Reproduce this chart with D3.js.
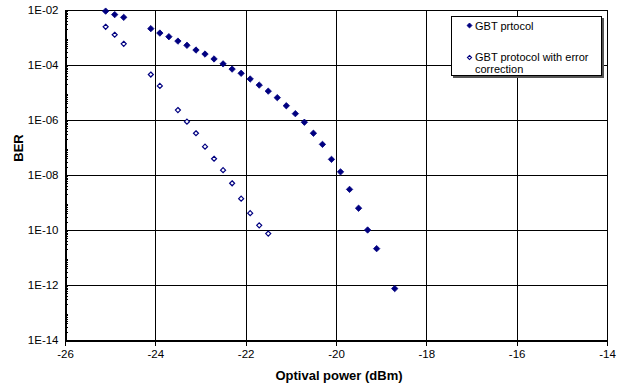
<!DOCTYPE html>
<html>
<head>
<meta charset="utf-8">
<script src="https://cdn.jsdelivr.net/npm/d3@7"></script>
<style>
  html, body { margin: 0; padding: 0; background: #fff; }
  svg { display: block; }
  text { font-family: "Liberation Sans", Arial, sans-serif; fill: #000; }
</style>
</head>
<body>
<svg id="chart" width="632" height="389"></svg>
<script>
// ---- data ----
const gbtPower = [-25.1, -24.9, -24.7, -24.1, -23.9, -23.7, -23.5, -23.3, -23.1, -22.9, -22.7, -22.5, -22.3, -22.1, -21.9, -21.7, -21.5, -21.3, -21.1, -20.9, -20.7, -20.5, -20.3, -20.1, -19.9, -19.7, -19.5, -19.3, -19.1, -18.7];
const gbtBER = [9.1e-3, 6.8e-3, 5.4e-3, 2.1e-3, 1.45e-3, 1.07e-3, 7.4e-4, 5.2e-4, 3.5e-4, 2.5e-4, 1.66e-4, 1.1e-4, 7.1e-5, 5.0e-5, 3.1e-5, 1.86e-5, 1.12e-5, 6.5e-6, 3.3e-6, 1.7e-6, 8.3e-7, 3.3e-7, 1.3e-7, 3.7e-8, 1.3e-8, 3.0e-9, 6.2e-10, 1.0e-10, 2.1e-11, 7.4e-13];
const ecPower = [-25.1, -24.9, -24.7, -24.1, -23.9, -23.5, -23.3, -23.1, -22.9, -22.7, -22.5, -22.3, -22.1, -21.9, -21.7, -21.5];
const ecBER = [2.45e-3, 1.26e-3, 5.9e-4, 4.5e-5, 1.74e-5, 2.3e-6, 8.7e-7, 3.3e-7, 1.07e-7, 3.9e-8, 1.5e-8, 5.0e-9, 1.38e-9, 4.1e-10, 1.48e-10, 7.4e-11];
const xTicks = [-26, -24, -22, -20, -18, -16, -14];
const yTicks = [1e-2, 1e-4, 1e-6, 1e-8, 1e-10, 1e-12, 1e-14];
const yTickLabels = ["1E-02", "1E-04", "1E-06", "1E-08", "1E-10", "1E-12", "1E-14"];
const seriesNames = ["GBT prtocol", "GBT protocol with error", "correction"];
const xTitle = "Optival power (dBm)";
const yTitle = "BER";

// ---- layout ----
const L = 65, R = 607, T = 10, B = 340;
const navy = "#000080";
const svg = d3.select("#chart");

const x = d3.scaleLinear().domain([-26, -14]).range([L, R]);
const y = d3.scaleLog().domain([1e-14, 1e-2]).range([B, T]);

// gridlines
const grid = svg.append("g").attr("shape-rendering", "crispEdges");
grid.selectAll("line.vx").data(xTicks.slice(1, -1)).join("line")
  .attr("x1", d => Math.round(x(d)) + 0.5).attr("x2", d => Math.round(x(d)) + 0.5)
  .attr("y1", T).attr("y2", B).attr("stroke", "#000").attr("stroke-width", 1);
grid.selectAll("line.hy").data(yTicks.slice(1, -1)).join("line")
  .attr("y1", d => Math.round(y(d)) + 0.5).attr("y2", d => Math.round(y(d)) + 0.5)
  .attr("x1", L).attr("x2", R).attr("stroke", "#000").attr("stroke-width", 1);

// frame (top & right)
svg.append("rect").attr("x", L + 0.5).attr("y", T + 0.5).attr("width", R - L).attr("height", B - T)
  .attr("fill", "none").attr("stroke", "#000").attr("shape-rendering", "crispEdges");

// x axis
const xAxis = d3.axisBottom(x).tickValues(xTicks).tickSize(5).tickPadding(4).tickFormat(d3.format("d"));
const gx = svg.append("g").attr("transform", `translate(0,${B + 0.5})`).call(xAxis);
gx.select(".domain").attr("stroke", "#000").attr("shape-rendering", "crispEdges");
gx.selectAll(".tick line").attr("stroke", "#000").attr("shape-rendering", "crispEdges");
gx.selectAll(".tick text").attr("font-size", 11.5).attr("font-family", "Liberation Sans, Arial, sans-serif").attr("fill", "#000").text(d => d);

// y axis: major labels, minor ticks inside
const minor = [];
for (let e = -14; e < -2; e++) for (let k = 2; k <= 9; k++) minor.push(k * Math.pow(10, e));
const yAxis = d3.axisLeft(y).tickValues(yTicks).tickSize(0).tickPadding(7).tickFormat((d, i) => yTickLabels[i]);
const gy = svg.append("g").attr("transform", `translate(${L + 0.5},0)`).call(yAxis);
gy.select(".domain").attr("stroke", "#000").attr("shape-rendering", "crispEdges");
gy.selectAll(".tick text").attr("font-size", 11.5).attr("font-family", "Liberation Sans, Arial, sans-serif").attr("fill", "#000");
const yMinor = d3.axisRight(y).tickValues(minor).tickSize(2).tickFormat("");
const gym = svg.append("g").attr("transform", `translate(${L + 0.5},0)`).call(yMinor);
gym.select(".domain").remove();
gym.selectAll(".tick line").attr("stroke", "#000").attr("shape-rendering", "crispEdges");

// titles
svg.append("text").attr("x", 339).attr("y", 380).attr("text-anchor", "middle")
  .attr("font-size", 13).attr("font-weight", "bold").text(xTitle);
svg.append("text").attr("transform", "translate(23,148) rotate(-90)").attr("text-anchor", "middle")
  .attr("font-size", 13).attr("font-weight", "bold").text(yTitle);

// markers
const filledPts = gbtPower.map((p, i) => [p, gbtBER[i]]);
const openPts = ecPower.map((p, i) => [p, ecBER[i]]);
svg.append("g").selectAll("path").data(filledPts).join("path")
  .attr("transform", d => `translate(${x(d[0])},${y(d[1])})`)
  .attr("d", d3.symbol().type(d3.symbolDiamond2).size(26)())
  .attr("fill", navy).attr("stroke", navy).attr("stroke-width", 0.8);
svg.append("g").selectAll("path").data(openPts).join("path")
  .attr("transform", d => `translate(${x(d[0])},${y(d[1])})`)
  .attr("d", d3.symbol().type(d3.symbolDiamond2).size(16)())
  .attr("fill", "#fff").attr("stroke", navy).attr("stroke-width", 1.2);

// legend
const lg = svg.append("g");
lg.append("rect").attr("x", 453).attr("y", 18).attr("width", 151).attr("height", 60).attr("fill", "#555");
lg.append("rect").attr("x", 451.5).attr("y", 16.5).attr("width", 150).attr("height", 59)
  .attr("fill", "#fff").attr("stroke", "#000").attr("shape-rendering", "crispEdges");
lg.append("path").attr("transform", "translate(469.5,25.5)")
  .attr("d", d3.symbol().type(d3.symbolDiamond2).size(16)())
  .attr("fill", navy).attr("stroke", navy).attr("stroke-width", 0.8);
lg.append("path").attr("transform", "translate(469.5,57.5)")
  .attr("d", d3.symbol().type(d3.symbolDiamond2).size(11)())
  .attr("fill", "#fff").attr("stroke", navy).attr("stroke-width", 1.1);
lg.append("text").attr("x", 475).attr("y", 29.5).attr("font-size", 11).text(seriesNames[0]);
lg.append("text").attr("x", 475).attr("y", 61).attr("font-size", 11).text(seriesNames[1]);
lg.append("text").attr("x", 475).attr("y", 73).attr("font-size", 11).text(seriesNames[2]);
</script>
</body>
</html>
